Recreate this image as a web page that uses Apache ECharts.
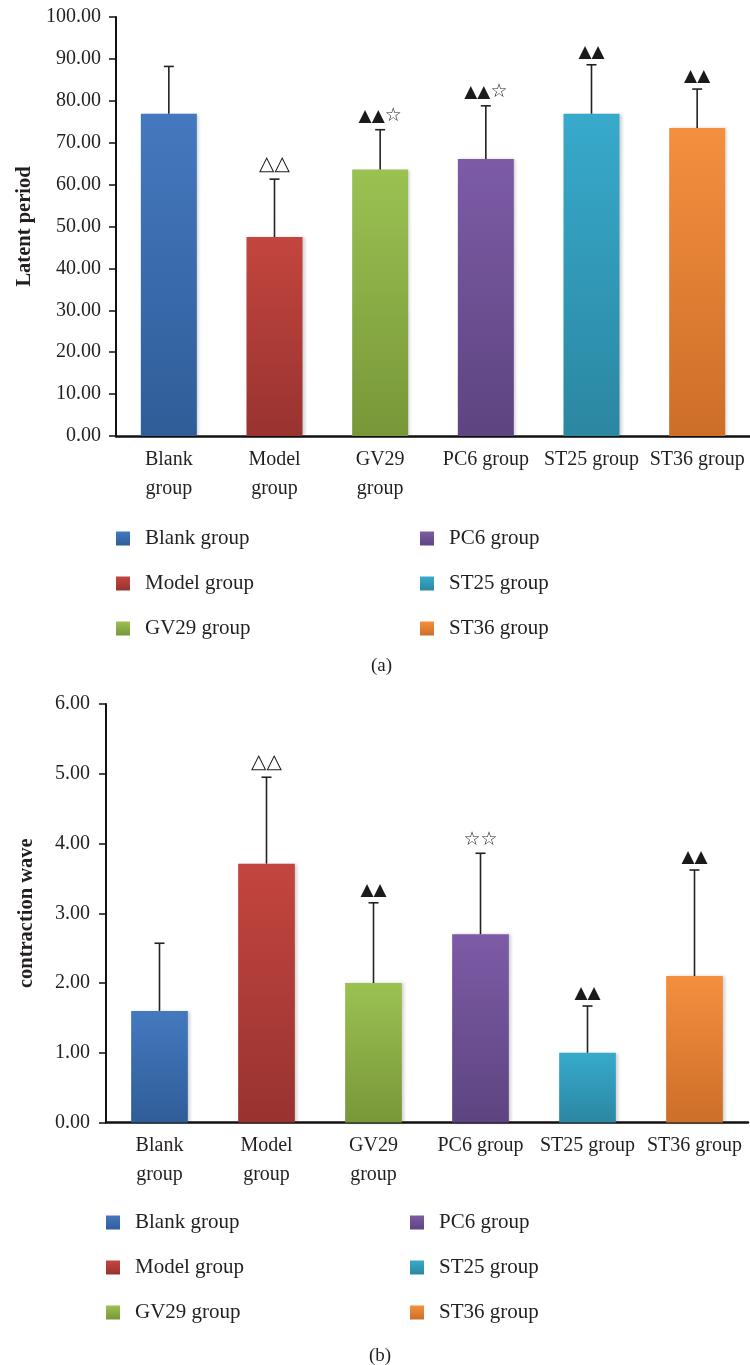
<!DOCTYPE html>
<html>
<head>
<meta charset="utf-8">
<script src="https://cdn.jsdelivr.net/npm/echarts@6/dist/echarts.min.js"></script>
<style>
html,body{margin:0;padding:0;background:#fff;}
#chart{width:750px;height:1365px;}
</style>
</head>
<body>
<div id="chart"></div>
<script>
// ---- data ----
const categories = ['Blank group', 'Model group', 'GV29 group', 'PC6 group', 'ST25 group', 'ST36 group'];
const tickLabels = ['Blank\ngroup', 'Model\ngroup', 'GV29\ngroup', 'PC6 group', 'ST25 group', 'ST36 group'];
const latentMean  = [76.9, 47.5, 63.6, 66.1, 76.9, 73.5];
const latentUpper = [88.2, 61.3, 73.1, 78.8, 88.6, 82.8];
const latentMarks = ['', '△△', '▲▲☆', '▲▲☆', '▲▲', '▲▲'];
const contractMean  = [1.60, 3.71, 2.00, 2.70, 1.00, 2.10];
const contractUpper = [2.57, 4.95, 3.15, 3.86, 1.67, 3.62];
const contractMarks = ['', '△△', '▲▲', '☆☆', '▲▲', '▲▲'];
const latentAxisName = 'Latent period';
const contractAxisName = 'contraction wave';

// ---- style ----
const topColors = ['#4479bf', '#c4453f', '#9bc152', '#7d5ba6', '#37aacb', '#f48f3e'];
const botColors = ['#2f5d98', '#983330', '#789739', '#5d4480', '#2b87a2', '#cd6e29'];
const SERIF = '"Liberation Serif", "DejaVu Serif", serif';
const TXT = '#231f20';
const glyphStyle = {'▲': 'f', '△': 'h', '☆': 's'};

function grad(i) {
  return new echarts.graphic.LinearGradient(0, 0, 0, 1, [
    {offset: 0, color: topColors[i]},
    {offset: 1, color: botColors[i]}
  ]);
}

function richMark(s) {
  return Array.from(s).map(c => '{' + (glyphStyle[c] || 'f') + '|' + c + '}').join('');
}

function barSeries(values, g) {
  return categories.map((name, i) => ({
    name: name,
    type: 'bar',
    xAxisIndex: g,
    yAxisIndex: g,
    stack: 'stack' + g,
    barWidth: '53%',
    data: values.map((v, j) => (j === i ? v : '-')),
    itemStyle: {
      color: grad(i),
      shadowColor: 'rgba(0,0,0,0.18)',
      shadowBlur: 3,
      shadowOffsetX: 2
    },
    emphasis: {disabled: true}
  }));
}

function errSeries(mean, upper, marks, g) {
  return {
    type: 'custom',
    xAxisIndex: g,
    yAxisIndex: g,
    z: 5,
    clip: false,
    data: mean.map((v, i) => [i, v, upper[i]]),
    encode: {x: 0, y: [1, 2]},
    renderItem: function (params, api) {
      const idx = api.value(0);
      const p0 = api.coord([idx, api.value(1)]);
      const p1 = api.coord([idx, api.value(2)]);
      const stroke = {stroke: '#222', lineWidth: 1.6};
      const children = [
        {type: 'line', shape: {x1: p0[0], y1: p0[1], x2: p1[0], y2: p1[1]}, style: stroke},
        {type: 'line', shape: {x1: p1[0] - 5, y1: p1[1], x2: p1[0] + 5, y2: p1[1]}, style: stroke}
      ];
      if (marks[idx]) {
        children.push({
          type: 'text', x: p1[0], y: p1[1] - 4,
          style: {
            text: richMark(marks[idx]), align: 'center', verticalAlign: 'bottom',
            rich: {
              f: {fontFamily: 'DejaVu Sans', fontSize: 17, fill: '#1a1a1a', color: '#1a1a1a'},
              h: {fontFamily: 'DejaVu Sans', fontSize: 20, fill: '#1a1a1a', color: '#1a1a1a'},
              s: {fontFamily: 'DejaVu Sans', fontSize: 19, fill: '#1a1a1a', color: '#1a1a1a'}
            }
          }
        });
      }
      return {type: 'group', children: children};
    }
  };
}

function xAxis(g) {
  return {
    type: 'category',
    gridIndex: g,
    data: categories,
    axisLine: {lineStyle: {color: '#111', width: 2.5}},
    axisTick: {show: false},
    axisLabel: {
      interval: 0,
      margin: 9,
      color: TXT,
      fontFamily: SERIF,
      fontSize: 20,
      lineHeight: 29,
      formatter: (v, i) => tickLabels[i]
    }
  };
}

function yAxis(g, max, interval, name, gap, margin) {
  return {
    type: 'value',
    gridIndex: g,
    min: 0,
    max: max,
    interval: interval,
    name: name,
    nameLocation: 'middle',
    nameGap: gap,
    nameTextStyle: {fontFamily: SERIF, fontWeight: 'bold', fontSize: 20.5, color: TXT},
    splitLine: {show: false},
    axisLine: {show: true, lineStyle: {color: '#111', width: 2}},
    axisTick: {show: true, length: 7, lineStyle: {color: '#111', width: 1.5}},
    axisLabel: {
      margin: margin,
      color: TXT,
      fontFamily: SERIF,
      fontSize: 20,
      formatter: v => v.toFixed(2)
    }
  };
}

function legend(names, left, top) {
  return {
    data: names,
    orient: 'vertical',
    left: left,
    top: top,
    padding: 0,
    itemWidth: 14,
    itemHeight: 14,
    itemGap: 24,
    icon: 'rect',
    selectedMode: false,
    textStyle: {fontFamily: SERIF, fontSize: 21, color: TXT, lineHeight: 20, padding: [0, 0, 0, 10]}
  };
}

const chart = echarts.init(document.getElementById('chart'), null, {renderer: 'canvas'});
chart.setOption({
  animation: false,
  backgroundColor: '#fff',
  grid: [
    {left: 116, right: 0, top: 17, height: 419},
    {left: 106, right: 2, top: 704, height: 418.5}
  ],
  xAxis: [xAxis(0), xAxis(1)],
  yAxis: [
    yAxis(0, 100, 10, latentAxisName, 81, 15),
    yAxis(1, 6, 1, contractAxisName, 69, 16)
  ],
  legend: [
    legend(categories.slice(0, 3), 116, 528),
    legend(categories.slice(3), 420, 528),
    legend(categories.slice(0, 3), 106, 1212),
    legend(categories.slice(3), 410, 1212)
  ],
  title: [
    {text: '(a)', left: 366, top: 652, textStyle: {fontFamily: SERIF, fontSize: 19, fontWeight: 'normal', color: TXT}},
    {text: '(b)', left: 364, top: 1342, textStyle: {fontFamily: SERIF, fontSize: 19, fontWeight: 'normal', color: TXT}}
  ],
  series: [].concat(
    barSeries(latentMean, 0),
    [errSeries(latentMean, latentUpper, latentMarks, 0)],
    barSeries(contractMean, 1),
    [errSeries(contractMean, contractUpper, contractMarks, 1)]
  )
});
</script>
</body>
</html>
